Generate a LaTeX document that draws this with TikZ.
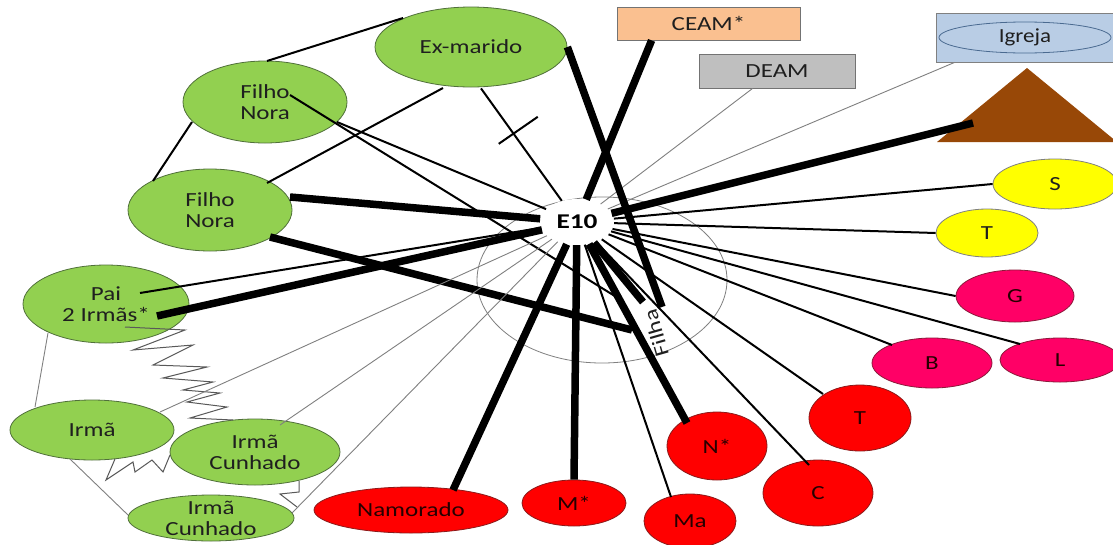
\documentclass[tikz,border=0pt]{standalone}
\usepackage{fontspec}
\setmainfont{Carlito}[FakeStretch=1.25]
\newfontfamily\igfont{Carlito}[FakeStretch=1.15]
\newfontfamily\efont{Carlito}[FakeStretch=1.3]
\usetikzlibrary{shapes.geometric,calc}
\definecolor{gfill}{HTML}{92D050}
\definecolor{gline}{HTML}{50703A}
\definecolor{rfill}{HTML}{FF0000}
\definecolor{rline}{HTML}{8B1A1A}
\definecolor{pfill}{HTML}{FF0066}
\definecolor{pline}{HTML}{8B1A3A}
\definecolor{yfill}{HTML}{FFFF00}
\definecolor{ceamc}{HTML}{FAC090}
\definecolor{deamc}{HTML}{BFBFBF}
\definecolor{igc}{HTML}{B9CDE5}
\definecolor{igl}{HTML}{4A6A90}
\definecolor{brownc}{HTML}{984807}
\definecolor{lgrey}{HTML}{808080}
\tikzset{
  ell/.style={ellipse, inner sep=0pt, line width=0.8pt},
  sz/.style 2 args={minimum width=#1pt, minimum height=#2pt},
  lab/.style={font=\fontsize{20}{21}\selectfont, align=center, text=black!88, inner sep=0pt},
  rlab/.style={lab, text=black!85!red},
  gnode/.style={ell, draw=gline, fill=gfill},
  rnode/.style={ell, draw=rline, fill=rfill},
  pnode/.style={ell, draw=pline, fill=pfill},
  ynode/.style={ell, draw=lgrey, fill=yfill},
  boxnode/.style={draw=black!55, line width=0.8pt, inner sep=0pt, font=\fontsize{20}{21}\selectfont, text=black!88},
  blk/.style={black, line width=2pt},
  fat/.style={black, line width=7.5pt},
  gry/.style={lgrey, line width=0.9pt},
  zig/.style={black!65, line width=1pt},
}
\begin{document}
\begin{tikzpicture}[x=1pt,y=-1pt]
\useasboundingbox (0,0) rectangle (1113,544);
\fill[white] (0,0) rectangle (1113,544);
\clip (0,0) rectangle (1113,544);

% big faint circle
\draw[lgrey, line width=0.8pt] (602,280) ellipse [x radius=125pt, y radius=83pt];

% boxes and triangle
\node[boxnode, fill=ceamc, sz={183}{33}] (ceam) at (708.5,23.5) {CEAM*};
\node[boxnode, fill=deamc, sz={156}{34}] (deam) at (777,71) {DEAM};
\node[boxnode, draw=lgrey, fill=igc, sz={177}{49}] (igb) at (1024.5,37.5) {};
\node[ell, draw=igl, fill=igc, sz={172}{31}, font=\igfont\fontsize{20}{22}\selectfont, text=black!88] (igr) at (1025,37.5) {Igreja};
\fill[brownc] (1027,68) -- (937,142) -- (1117,142) -- cycle;
\coordinate (tri) at (973,123);

% green nodes
\node[gnode, sz={192}{80}, label={[lab]center:Ex-marido}] (exm) at (471,47) {};
\node[gnode, sz={164}{82}, label={[lab]center:{Filho\\Nora}}] (fn1) at (265,102) {};
\node[gnode, sz={164}{82}, label={[lab]center:{Filho\\Nora}}] (fn2) at (210,210) {};
\node[gnode, sz={166}{78}, label={[lab]center:{Pai\\2 Irmãs*}}] (pai) at (106,304) {};
\node[gnode, sz={164}{60}, label={[lab]center:Irmã}] (irma) at (92,430) {};
\node[gnode, sz={170}{66}, label={[lab]center:{Irmã\\Cunhado}}] (ic1) at (255,452) {};
\node[gnode, sz={166}{46}, label={[lab]center:{Irmã\\Cunhado}}] (ic2) at (211,518) {};

% red nodes
\node[rnode, sz={194}{46}, label={[rlab]center:Namorado}] (nam) at (411,510) {};
\node[rnode, sz={104}{46}, label={[rlab]center:M*}] (mst) at (574,503) {};
\node[rnode, sz={92}{54}, label={[rlab]center:Ma}] (ma) at (690,521) {};
\node[rnode, sz={100}{68}, label={[rlab]center:N*}] (nst) at (717,446) {};
\node[rnode, sz={110}{66}, label={[rlab]center:C}] (c) at (818,493) {};
\node[rnode, sz={102}{66}, label={[rlab]center:T}] (tr) at (860,418) {};

% pink nodes
\node[pnode, sz={120}{50}, label={[rlab]center:B}] (b) at (932,363) {};
\node[pnode, sz={120}{44}, label={[rlab]center:L}] (l) at (1060,360) {};
\node[pnode, sz={118}{52}, label={[rlab]center:G}] (g) at (1015,296) {};

% yellow nodes
\node[ynode, sz={102}{48}, label={[lab]center:T}] (ty) at (987,233) {};
\node[ynode, sz={124}{50}, label={[lab]center:S}] (s) at (1055,184) {};

% centre
\node[ellipse, fill=white, inner sep=0pt, sz={74}{46}, font=\efont\bfseries\fontsize{21}{24}\selectfont] (e10) at (577,222) {E10};
\node[lab, rotate=106] (filha) at (656,333) {Filha};

% green-side connections
\coordinate (exb) at ($(exm.south)+(10,1)$);
\draw[blk] (exb) -- (e10);
\coordinate (tk) at ($(exb)!0.31!(e10)$);
\draw[blk] ($(tk)+(-12,14)$) -- ($(tk)+(27,-13)$);
\draw[blk] ($(fn1)+(25,-7)$) -- ($(filha)+(-38,-35)$);
\draw[blk] ($(fn1)+(72,20)$) -- (e10);
\draw[blk] ($(fn1)+(-73,20)$) -- ($(fn2)+(-57,-29)$);
\draw[blk] ($(fn1)+(2,-41)$) -- ($(exm)+(-68,-29)$);
\draw[blk] ($(exm)+(-28,41)$) -- ($(fn2)+(57,-27)$);
\draw[fat] ($(fn2)+(80,-13)$) -- (e10);
\draw[fat] ($(fn2)+(60,27)$) -- ($(filha)+(-24,-3)$);
\draw[blk] ($(pai)+(34,-11)$) -- (e10);
\draw[fat] ($(pai)+(51,12)$) -- (e10);
\draw[zig] ($(pai)+(19,23)$) -- (185,330) -- (133,350) -- (193,345) -- (153,365) -- (207,367) -- (163,378) -- (213,382) -- (183,390) -- (220,393) -- (187,402) -- (227,407) -- (190,418) -- ($(ic1)+(-22,-32)$);
\draw[gry] ($(pai)+(-58,29)$) -- ($(irma)+(-57,-23)$);
\draw[gry] ($(irma)+(68,-18)$) -- (e10);
\draw[gry] ($(ic1)+(25,-27)$) -- (e10);
\draw[zig] ($(irma)+(23,29)$) -- (106,480) -- (133,462) -- (135,472) -- (152,460) -- (163,472) -- ($(ic1)+(-85,3)$);
\draw[gry] ($(irma)+(-22,29)$) -- ($(ic2)+(-83,-3)$);
\draw[zig] ($(ic1)+(44,29)$) -- (299,492) -- (280,494) -- ($(ic2)+(86,-11)$);
\draw[gry] ($(ic2)+(81,-5)$) -- (e10);

% top-right connections
\draw[gry] ($(igb.south west)+(19,0)$) -- (e10);
\draw[gry] ($(deam.south west)+(54,0)$) -- (e10);
\draw[fat] (tri) -- (e10);
\draw[fat] ($(ceam.south west)+(35,0)$) -- (e10);
\draw[fat] (exm.east) -- ($(filha)+(6,-26)$);
\draw[fat] (e10) -- ($(filha)+(-13,-31)$);

% right-side connections
\draw[blk] (e10) -- (s.west);
\draw[blk] (e10) -- (ty.west);
\draw[blk] (e10) -- (g.west);
\draw[blk] (e10) -- ($(l)+(-40,-16)$);
\draw[blk] (e10) -- ($(b)+(-40,-18)$);
\draw[blk] (e10) -- ($(tr)+(-37,-24)$);
\draw[blk] (e10) -- ($(c)+(-9,-28)$);
\draw[fat] (e10) -- ($(nst)+(-30,-23)$);
\draw[blk] (e10) -- ($(ma)+(-19,-24)$);
\draw[fat] (e10) -- (mst.north);
\draw[fat] (e10) -- ($(nam)+(42,-20)$);
\end{tikzpicture}
\end{document}
